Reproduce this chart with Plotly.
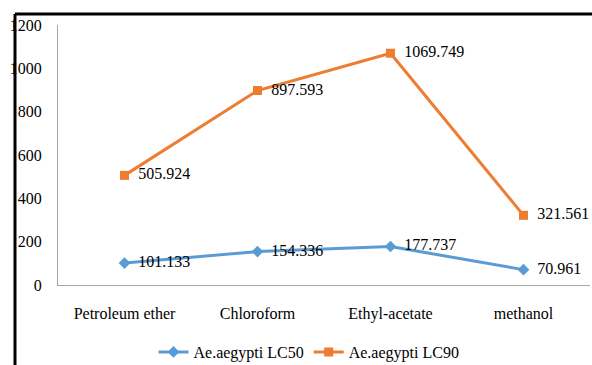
import plotly.graph_objects as go

solvents = ["Petroleum ether", "Chloroform", "Ethyl-acetate", "methanol"]
lc50 = [101.133, 154.336, 177.737, 70.961]
lc90 = [505.924, 897.593, 1069.749, 321.561]
y_ticks = [0, 200, 400, 600, 800, 1000, 1200]

W, H = 592, 365
L, R, T, B = 58, 2, 25, 80
FONT = "Liberation Serif"
FS = 16

fig = go.Figure()
fig.add_trace(go.Scatter(
    x=solvents, y=lc50, name="Ae.aegypti LC50",
    mode="lines+markers+text",
    line=dict(color="#5B9BD5", width=3),
    marker=dict(symbol="diamond", size=9, color="#5B9BD5"),
    text=[f" \u2009{v:.3f}" for v in lc50], textposition="middle right",
    textfont=dict(family=FONT, size=FS, color="#000000"),
    cliponaxis=False,
))
fig.add_trace(go.Scatter(
    x=solvents, y=lc90, name="Ae.aegypti LC90",
    mode="lines+markers+text",
    line=dict(color="#ED7D31", width=3),
    marker=dict(symbol="square", size=9, color="#ED7D31"),
    text=[f" \u2009{v:.3f}" for v in lc90], textposition="middle right",
    textfont=dict(family=FONT, size=FS, color="#000000"),
    cliponaxis=False,
))

pw, ph = W - L - R, H - T - B
px = lambda p: (p - L) / pw
py = lambda p: (H - B - p) / ph

# frame lines along the top and left edges
fig.add_shape(type="line", xref="paper", yref="paper",
              x0=px(15), x1=px(W + 5), y0=py(14), y1=py(14),
              line=dict(color="black", width=3))
fig.add_shape(type="line", xref="paper", yref="paper",
              x0=px(15), x1=px(15), y0=py(14), y1=py(H + 5),
              line=dict(color="black", width=3))

fig.update_layout(
    width=W, height=H,
    margin=dict(l=L, r=R, t=T, b=B, autoexpand=False),
    paper_bgcolor="white", plot_bgcolor="white",
    font=dict(family=FONT, size=FS, color="#000000"),
    showlegend=True,
    legend=dict(orientation="h", x=px(309), xanchor="center", y=py(352), yanchor="middle",
                font=dict(family=FONT, size=FS), itemwidth=30,
                bgcolor="rgba(0,0,0,0)"),
    xaxis=dict(showline=True, linecolor="#A6A6A6", linewidth=1, showgrid=False,
               ticks="", tickfont=dict(family=FONT, size=FS), ticklabelstandoff=14,
               range=[-0.5, 3.5], zeroline=False),
    yaxis=dict(showline=True, linecolor="#A6A6A6", linewidth=1, showgrid=False,
               range=[0, 1200], tickvals=y_ticks, ticks="",
               tickfont=dict(family=FONT, size=FS), ticklabelstandoff=12,
               zeroline=False),
)

fig.write_html("out.html")
